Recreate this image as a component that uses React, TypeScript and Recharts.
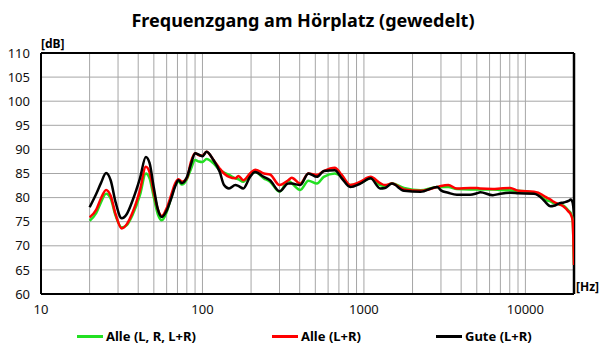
import React from 'react';
import { LineChart, Line, XAxis, YAxis, CartesianGrid, ReferenceLine, Legend } from 'recharts';

const freqs = [
  20, 22, 23.5, 25.3, 27, 29, 31.6, 34, 37, 41,
  44.6, 47, 50, 53, 56, 60, 64, 67.7, 71, 74.6,
  80, 85, 90, 95, 100, 106, 117, 128, 136, 146,
  160, 167, 179, 197, 212, 240, 262, 300, 340, 357,
  403, 453, 512, 564, 660, 729, 823, 950, 1100, 1260,
  1350, 1490, 1770, 2240, 2840, 3000, 3330, 3760, 4540, 5010,
  5260, 6290, 7000, 8050, 9040, 11300, 12700, 13200, 14300, 15000,
  16200, 17300, 18500, 19100, 19600, 20000,
];

// Alle (L, R, L+R) - green
const alleAll = [
  75.2, 76.8, 79.0, 80.8, 79.8, 76.2, 73.8, 74.3, 76.5, 80.5,
  85.0, 84.0, 80.0, 76.5, 75.3, 77.0, 80.0, 82.5, 83.3, 82.7,
  83.8, 86.0, 87.8, 87.5, 87.4, 88.0, 87.1, 85.7, 85.2, 84.7,
  84.0, 83.8, 83.3, 84.7, 85.3, 84.0, 83.3, 81.2, 83.5, 83.0,
  81.6, 83.5, 82.9, 84.3, 85.0, 84.3, 82.6, 83.0, 84.0, 82.6,
  82.4, 82.9, 82.0, 81.5, 82.2, 82.2, 82.2, 81.8, 81.7, 81.7,
  81.7, 81.7, 81.6, 81.5, 81.4, 81.0, 80.2, 79.6, 79.2, 78.8,
  78.6, 78.3, 77.3, 76.8, 75.5, 66.0,
];

// Alle (L+R) - red
const alleLR = [
  75.9, 77.5, 79.8, 81.6, 80.4, 76.5, 73.6, 74.5, 77.0, 81.5,
  86.4, 85.3, 81.0, 77.5, 76.2, 77.8, 80.5, 82.9, 83.8, 83.3,
  84.0, 87.5, 89.2, 88.8, 88.7, 89.5, 87.8, 86.0, 85.0, 84.3,
  84.0, 84.5, 83.6, 85.0, 85.8, 85.0, 84.8, 82.6, 83.6, 84.1,
  82.9, 85.0, 84.7, 85.5, 86.2, 84.7, 82.6, 83.3, 84.3, 83.0,
  82.6, 82.9, 81.7, 81.4, 82.2, 82.4, 82.6, 81.9, 82.0, 82.0,
  81.9, 81.8, 81.9, 82.0, 81.4, 81.2, 80.6, 80.2, 79.6, 79.1,
  78.6, 78.1, 77.1, 76.5, 75.3, 66.0,
];

// Gute (L+R) - black
const guteLR = [
  78.0, 80.8, 83.0, 85.1, 83.6, 79.0, 75.7, 76.6, 79.5, 84.0,
  88.4, 87.2, 82.0, 77.5, 76.0, 77.3, 79.8, 82.3, 83.6, 83.0,
  84.2, 87.0, 89.2, 88.9, 88.6, 89.5, 87.8, 85.3, 82.6, 81.9,
  82.6, 82.4, 81.9, 84.3, 85.3, 84.3, 83.6, 81.3, 82.9, 82.9,
  82.6, 85.0, 84.3, 85.5, 85.7, 84.0, 82.2, 82.9, 84.0, 81.9,
  82.0, 82.9, 81.4, 81.2, 82.2, 81.5, 81.0, 80.6, 80.6, 80.9,
  81.1, 80.5, 80.8, 81.0, 80.9, 80.8, 79.8, 79.2, 78.2, 78.3,
  78.8, 79.0, 79.3, 79.6, 79.0, 76.7,
];

const seriesNames = ['Alle (L, R, L+R)', 'Alle (L+R)', 'Gute (L+R)'];
const seriesColors = ['#22e022', '#ff0000', '#000000'];

const xTicks = [
  10, 20, 30, 40, 50, 60, 70, 80, 90,
  100, 200, 300, 400, 500, 600, 700, 800, 900,
  1000, 2000, 3000, 4000, 5000, 6000, 7000, 8000, 9000,
  10000, 20000,
];
const xLabels = [10, 100, 1000, 10000];
const yTicks = [60, 65, 70, 75, 80, 85, 90, 95, 100, 105, 110];

const title = 'Frequenzgang am Hörplatz (gewedelt)';
const yUnit = '[dB]';
const xUnit = '[Hz]';

const data = freqs.map((f, i) => ({ f, a: alleAll[i], b: alleLR[i], c: guteLR[i] }));

const FONT = "'Noto Sans', 'DejaVu Sans', sans-serif";

const legendLefts = [77, 272, 436];

const LegendContent = () => (
  <div style={{ position: 'relative', width: 606, height: 20, fontFamily: FONT }}>
    {seriesNames.map((n, i) => (
      <div
        key={n}
        style={{
          position: 'absolute',
          left: legendLefts[i],
          top: 0,
          height: 20,
          display: 'flex',
          alignItems: 'center',
          whiteSpace: 'nowrap',
        }}
      >
        <div style={{ width: 26, height: 3, background: seriesColors[i], marginRight: 3 }} />
        <span style={{ fontSize: 13, fontWeight: 700, color: '#000', lineHeight: '20px' }}>{n}</span>
      </div>
    ))}
  </div>
);

export default function App() {
  return (
    <div style={{ position: 'absolute', left: 0, top: 0, width: 606, height: 364, background: '#fff', overflow: 'hidden' }}>
      <div
        style={{
          position: 'absolute',
          left: 0,
          width: 606,
          top: 8,
          textAlign: 'center',
          fontFamily: FONT,
          fontWeight: 700,
          fontSize: 18,
          lineHeight: '24px',
          color: '#000',
        }}
      >
        {title}
      </div>
      <div
        style={{
          position: 'absolute',
          left: 41,
          top: 36,
          fontFamily: FONT,
          fontWeight: 700,
          fontSize: 12,
          lineHeight: '16px',
          color: '#000',
          whiteSpace: 'nowrap',
        }}
      >
        {yUnit}
      </div>
      <div
        style={{
          position: 'absolute',
          left: 576,
          top: 279,
          fontFamily: FONT,
          fontWeight: 700,
          fontSize: 12,
          lineHeight: '16px',
          color: '#000',
          whiteSpace: 'nowrap',
          zIndex: 2,
        }}
      >
        {xUnit}
      </div>
      <LineChart width={606} height={364} data={data} margin={{ top: 53, right: 32, bottom: 0, left: 0 }}>
        <CartesianGrid stroke="#a6a6a6" strokeWidth={1} />
        <XAxis
          dataKey="f"
          type="number"
          scale="log"
          domain={[10, 20000]}
          ticks={xTicks}
          interval={0}
          allowDataOverflow
          tickFormatter={(v: number) => (xLabels.includes(v) ? String(v) : '')}
          height={70}
          tickLine={false}
          tickSize={0}
          tickMargin={11}
          axisLine={{ stroke: '#000', strokeWidth: 2 }}
          tick={{ fill: '#111', fontSize: 13, fontFamily: FONT }}
        />
        <YAxis
          type="number"
          domain={[60, 110]}
          ticks={yTicks}
          interval={0}
          width={41}
          tickLine={false}
          tickSize={0}
          tickMargin={11}
          axisLine={{ stroke: '#000', strokeWidth: 2 }}
          tick={{ fill: '#111', fontSize: 13, fontFamily: FONT }}
        />
        <ReferenceLine y={110} stroke="#000" strokeWidth={2} />
        <ReferenceLine x={20000} stroke="#000" strokeWidth={2.5} />
        <Line type="monotone" dataKey="a" name={seriesNames[0]} stroke={seriesColors[0]} strokeWidth={2.5} dot={false} isAnimationActive={false} />
        <Line type="monotone" dataKey="b" name={seriesNames[1]} stroke={seriesColors[1]} strokeWidth={2.5} dot={false} isAnimationActive={false} />
        <Line type="monotone" dataKey="c" name={seriesNames[2]} stroke={seriesColors[2]} strokeWidth={2.5} dot={false} isAnimationActive={false} />
        <Legend
          layout="horizontal"
          verticalAlign="middle"
          align="center"
          wrapperStyle={{ top: 326, left: 0, width: 606, height: 20 }}
          content={() => <LegendContent />}
        />
      </LineChart>
    </div>
  );
}
